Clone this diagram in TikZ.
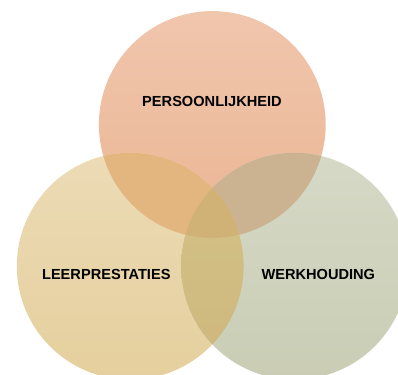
\documentclass[tikz,border=0pt]{standalone}
\usepackage{fontspec}
\setmainfont{Liberation Sans}
\definecolor{Ttop}{HTML}{F0C6AD}
\definecolor{Tbot}{HTML}{EBB593}
\definecolor{Ltop}{HTML}{ECDBB6}
\definecolor{Lbot}{HTML}{E5CF9D}
\definecolor{Rtop}{HTML}{D5D9C6}
\definecolor{Rbot}{HTML}{CACDB4}
\definecolor{TLc}{HTML}{E4B67F}
\definecolor{TRc}{HTML}{CBB291}
\definecolor{LRtop}{HTML}{D5C488}
\definecolor{LRbot}{HTML}{CDB67C}
\definecolor{TLRc}{HTML}{D1B276}
\tikzset{lbl/.style={font=\bfseries\fontsize{14.6}{16}\selectfont, text=black, anchor=base, inner sep=0pt}}
\begin{document}
\begin{tikzpicture}[x=1pt,y=1pt]
\useasboundingbox (0,0) rectangle (398,374);
\clip (0,0) rectangle (398,374);
\coordinate (T) at (212.3,249.5);
\coordinate (L) at (130.2,107.8);
\coordinate (R) at (294.5,107.8);
\def\rr{113.4}
\shade[top color=Ttop, bottom color=Tbot] (T) circle (\rr);
\shade[top color=Ltop, bottom color=Lbot] (L) circle (\rr);
\shade[top color=Rtop, bottom color=Rbot] (R) circle (\rr);
\begin{scope}
\clip (T) circle (\rr);
\fill[TLc] (L) circle (\rr);
\fill[TRc] (R) circle (\rr);
\end{scope}
\begin{scope}
\clip (L) circle (\rr);
\shade[top color=LRtop, bottom color=LRbot] (R) circle (\rr);
\clip (T) circle (\rr);
\fill[TLRc] (R) circle (\rr);
\end{scope}
\node[lbl] (pers) at (212,267.8) {PERSOONLIJKHEID};
\node[lbl] (leer) at (106.3,94.5) {LEERPRESTATIES};
\node[lbl] (werk) at (318.3,94.5) {WERKHOUDING};
\end{tikzpicture}
\end{document}
